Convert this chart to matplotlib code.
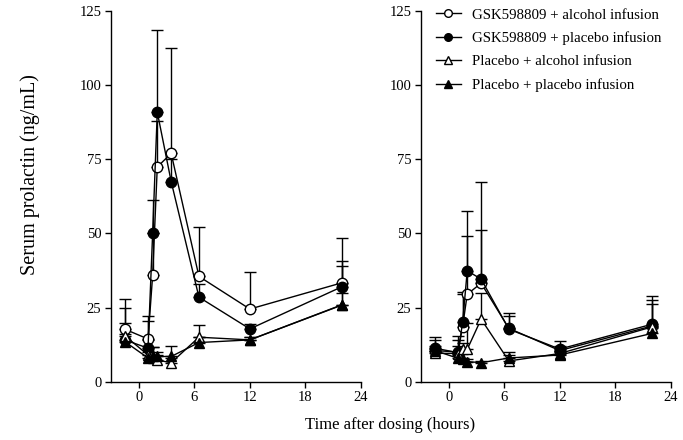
import numpy as np
import matplotlib
matplotlib.use("Agg")
import matplotlib.pyplot as plt
from matplotlib.lines import Line2D

plt.rcParams['font.family'] = ['Liberation Serif', 'DejaVu Serif']

# time points (hours after dosing)
hours = [-1.5, 1, 1.5, 2, 3.5, 6.5, 12, 22]

labels = ['GSK598809 + alcohol infusion',
          'GSK598809 + placebo infusion',
          'Placebo + alcohol infusion',
          'Placebo + placebo infusion']

# left panel: means and upper error bar ends
left_gsk_alc = [17.7, 14.4, 35.9, 72.4, 77.0, 35.5, 24.5, 33.4]
left_gsk_alc_up = [27.8, 22.0, 50.0, 88.0, 112.6, 52.0, 37.0, 48.4]
left_gsk_pla = [14.1, 11.3, 50.1, 90.9, 67.5, 28.5, 17.8, 32.1]
left_gsk_pla_up = [24.8, 20.5, 61.4, 118.5, 75.0, 33.0, 19.5, 40.7]
left_pla_alc = [15.5, 9.0, 8.0, 7.3, 6.4, 15.0, 14.1, 26.0]
left_pla_alc_up = [19.9, 14.1, 11.6, 9.0, 8.0, 19.2, 15.0, 38.9]
left_pla_pla = [13.5, 8.0, 8.5, 8.5, 8.5, 13.2, 14.1, 25.9]
left_pla_pla_up = [16.0, 10.0, 11.6, 10.0, 12.2, 15.0, 15.0, 30.0]

# right panel
right_gsk_alc = [10.5, 10.0, 18.6, 29.5, 33.2, 18.0, 10.5, 18.8]
right_gsk_alc_up = [13.9, 15.4, 29.6, 49.0, 51.2, 22.0, 12.0, 27.6]
right_gsk_pla = [11.3, 9.8, 20.0, 37.4, 34.6, 17.7, 11.0, 19.4]
right_gsk_pla_up = [15.2, 13.9, 30.4, 57.7, 67.2, 23.3, 13.7, 28.9]
right_pla_alc = [9.6, 9.5, 11.0, 10.9, 21.1, 7.0, 9.5, 18.5]
right_pla_alc_up = [11.0, 12.0, 13.0, 19.7, 30.0, 10.1, 10.5, 26.1]
right_pla_pla = [10.5, 7.9, 7.5, 6.8, 6.4, 8.0, 9.0, 16.3]
right_pla_pla_up = [12.0, 9.0, 8.0, 7.5, 7.0, 9.0, 10.0, 18.0]

styles = [('o', 'white'), ('o', 'black'), ('^', 'white'), ('^', 'black')]

fig = plt.figure(figsize=(6.83, 4.4), dpi=100)
ax1 = fig.add_axes([0.1625, 0.1325, 0.366, 0.8425])
ax2 = fig.add_axes([0.6164, 0.1325, 0.3656, 0.8425])

panels = [
    (ax1, [left_gsk_alc, left_gsk_pla, left_pla_alc, left_pla_pla],
     [left_gsk_alc_up, left_gsk_pla_up, left_pla_alc_up, left_pla_pla_up]),
    (ax2, [right_gsk_alc, right_gsk_pla, right_pla_alc, right_pla_pla],
     [right_gsk_alc_up, right_gsk_pla_up, right_pla_alc_up, right_pla_pla_up]),
]

for ax, series, uppers in panels:
    for vals, ups, (mk, fc), lab in zip(series, uppers, styles, labels):
        vals = np.array(vals)
        err = np.array(ups) - vals
        ax.errorbar(hours, vals, yerr=[np.zeros_like(err), err], color='black',
                    marker=mk, markerfacecolor=fc, markeredgecolor='black',
                    markersize=7.5 if mk == 'o' else 7, markeredgewidth=1.0,
                    lw=1.0, elinewidth=1.0, capsize=4, capthick=1.0)
    ax.set_xlim(-3, 24)
    ax.set_ylim(0, 125)
    ax.set_xticks([0, 6, 12, 18, 24])
    ax.set_yticks([0, 25, 50, 75, 100, 125])
    ax.spines['top'].set_visible(False)
    ax.spines['right'].set_visible(False)
    ax.spines['left'].set_linewidth(1.0)
    ax.spines['bottom'].set_linewidth(1.0)
    ax.tick_params(direction='out', length=4, width=1.0, labelsize=10.5, pad=3)

fig.text(0.044, 0.603, 'Serum prolactin (ng/mL)', rotation=90,
         ha='center', va='center', fontsize=14.5)
fig.text(0.571, 0.035, 'Time after dosing (hours)', ha='center', va='center', fontsize=12)

# legend: line + marker only
handles = [Line2D([], [], color='black', lw=1.0, marker=mk, markerfacecolor=fc,
                  markeredgecolor='black', markersize=5.5, markeredgewidth=1.0)
           for mk, fc in styles]
ax2.legend(handles, labels, loc='upper left', bbox_to_anchor=(0.634, 0.988),
           bbox_transform=fig.transFigure, frameon=False, fontsize=10.7,
           handlelength=1.65, handletextpad=0.75, labelspacing=0.66,
           borderaxespad=0, borderpad=0.2)

fig.savefig('out.png', dpi=100)
